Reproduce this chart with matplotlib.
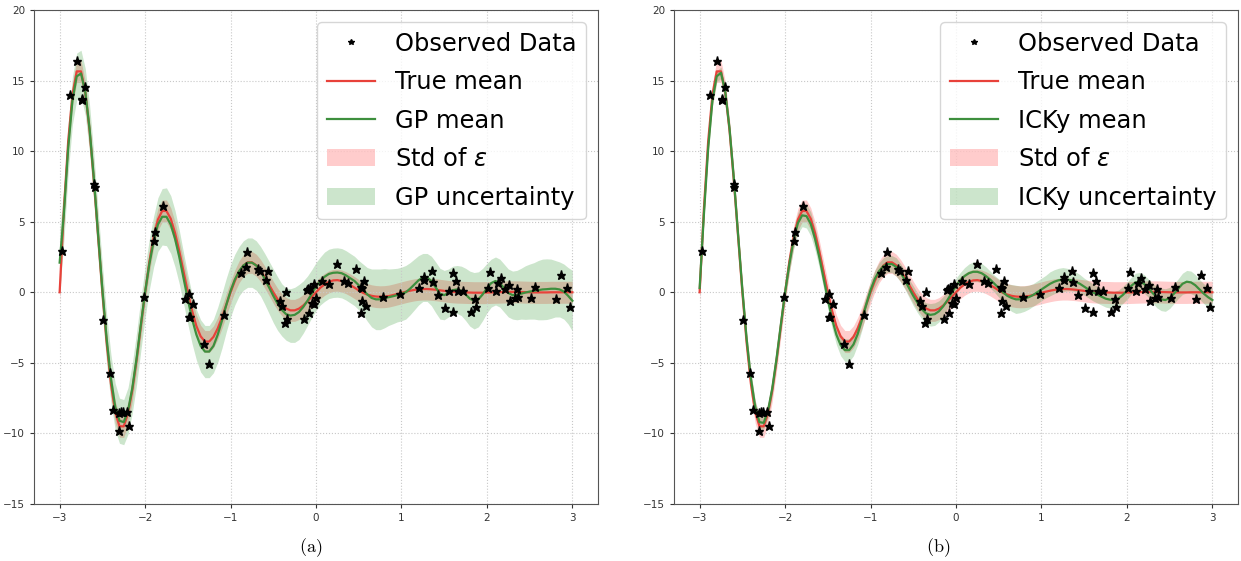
import numpy as np
import matplotlib.pyplot as plt

# sample grid of the curves (step 0.05)
x_grid = np.linspace(-3, 3, 121)

true_mean = [
    0.0, 5.91, 10.69, 14.00, 15.65, 15.65, 14.16, 11.46, 7.92, 3.96,
    0.0, -3.58, -6.48, -8.49, -9.49, -9.50, -8.59, -6.95, -4.80, -2.40,
    0.0, 2.17, 3.93, 5.15, 5.76, 5.76, 5.21, 4.21, 2.91, 1.46,
    0.0, -1.32, -2.39, -3.12, -3.49, -3.49, -3.16, -2.56, -1.77, -0.88,
    0.0, 0.80, 1.45, 1.89, 2.12, 2.12, 1.92, 1.55, 1.07, 0.54,
    0.0, -0.49, -0.88, -1.15, -1.28, -1.28, -1.16, -0.94, -0.65, -0.32,
    0.0, 0.32, 0.56, 0.74, 0.84, 0.86, 0.80, 0.68, 0.52, 0.33,
    0.13, -0.04, -0.16, -0.25, -0.30, -0.32, -0.31, -0.27, -0.20, -0.12,
    -0.04, 0.04, 0.11, 0.17, 0.21, 0.23, 0.23, 0.21, 0.18, 0.14,
    0.10, 0.06, 0.03, 0.01, 0.00, -0.01, -0.02, -0.03, -0.03, -0.03,
    -0.02, -0.01, 0.00, 0.01, 0.02, 0.03, 0.03, 0.03, 0.02, 0.01,
    0.00, -0.01, -0.01, -0.01, -0.01, 0.00, 0.00, 0.00, 0.00, 0.00,
    0.00]

gp_mean = [
    2.1, 5.6, 10.2, 13.6, 15.3, 15.5, 14.2, 11.6, 8.1, 4.1,
    0.2, -3.3, -6.1, -8.1, -9.1, -9.2, -8.4, -6.8, -4.7, -2.3,
    0.0, 2.0, 3.6, 4.8, 5.35, 5.35, 4.8, 3.8, 2.5, 1.0,
    -0.5, -1.9, -3.0, -3.8, -4.2, -4.2, -3.8, -3.0, -2.0, -0.9,
    0.1, 0.9, 1.5, 1.9, 2.1, 2.1, 1.9, 1.5, 0.95, 0.35,
    -0.25, -0.8, -1.25, -1.55, -1.65, -1.6, -1.4, -1.05, -0.6, -0.1,
    0.4, 0.8, 1.1, 1.3, 1.38, 1.4, 1.35, 1.2, 1.0, 0.8,
    0.5, 0.2, -0.15, -0.4, -0.5, -0.5, -0.42, -0.35, -0.28, -0.2,
    -0.12, 0.0, 0.25, 0.55, 0.85, 1.05, 1.05, 0.8, 0.35, -0.1,
    -0.2, -0.05, 0.15, 0.2, 0.1, -0.15, -0.45, -0.6, -0.5, -0.15,
    0.3, 0.65, 0.8, 0.65, 0.3, -0.05, -0.2, -0.2, -0.1, -0.02,
    0.05, 0.1, 0.15, 0.2, 0.22, 0.25, 0.25, 0.2, 0.05, -0.25,
    -0.6]

gp_std = [
    2.2, 1.9, 1.75, 1.7, 1.65, 1.65, 1.65, 1.7, 1.7, 1.75,
    1.75, 1.75, 1.7, 1.65, 1.6, 1.6, 1.65, 1.75, 1.85, 1.85,
    1.8, 1.8, 1.8, 1.9, 2.0, 2.05, 2.05, 2.0, 1.9, 1.8,
    1.75, 1.75, 1.8, 1.85, 1.85, 1.85, 1.9, 1.95, 1.95, 1.9,
    1.85, 1.8, 1.75, 1.75, 1.75, 1.75, 1.75, 1.75, 1.8, 1.85,
    1.9, 1.9, 1.85, 1.85, 1.9, 1.95, 1.95, 1.85, 1.75, 1.7,
    1.7, 1.7, 1.75, 1.75, 1.75, 1.75, 1.75, 1.75, 1.75, 1.75,
    1.75, 1.8, 1.9, 2.05, 2.15, 2.15, 2.1, 2.0, 1.95, 1.9,
    1.9, 1.9, 1.85, 1.8, 1.75, 1.7, 1.7, 1.75, 1.8, 1.8,
    1.75, 1.7, 1.7, 1.7, 1.75, 1.85, 1.95, 2.0, 1.95, 1.85,
    1.75, 1.7, 1.7, 1.7, 1.7, 1.7, 1.7, 1.75, 1.8, 1.9,
    1.95, 2.0, 2.1, 2.15, 2.15, 2.1, 2.0, 1.95, 1.95, 2.0,
    2.15]

icky_mean = [
    0.3, 5.5, 10.2, 13.6, 15.3, 15.55, 14.2, 11.6, 8.1, 4.1,
    0.2, -3.3, -6.1, -8.1, -9.2, -9.25, -8.4, -6.8, -4.7, -2.3,
    0.0, 2.0, 3.7, 4.9, 5.45, 5.4, 4.85, 3.8, 2.5, 1.0,
    -0.5, -1.9, -3.0, -3.75, -4.1, -4.1, -3.7, -2.95, -1.95, -0.85,
    0.15, 0.95, 1.5, 1.85, 2.0, 2.0, 1.8, 1.4, 0.9, 0.3,
    -0.25, -0.75, -1.2, -1.5, -1.6, -1.55, -1.35, -1.0, -0.55, -0.05,
    0.45, 0.85, 1.15, 1.35, 1.45, 1.45, 1.35, 1.15, 0.9, 0.6,
    0.3, 0.0, -0.25, -0.4, -0.5, -0.5, -0.45, -0.35, -0.2, 0.0,
    0.2, 0.4, 0.6, 0.75, 0.85, 0.9, 0.9, 0.85, 0.75, 0.6,
    0.4, 0.2, 0.0, -0.15, -0.3, -0.45, -0.52, -0.55, -0.45, -0.2,
    0.1, 0.45, 0.7, 0.75, 0.6, 0.3, -0.05, -0.35, -0.5, -0.55,
    -0.4, -0.1, 0.25, 0.6, 0.75, 0.7, 0.5, 0.2, -0.1, -0.35,
    -0.55]

icky_std = [
    0.45, 0.4, 0.4, 0.4, 0.4, 0.4, 0.4, 0.45, 0.45, 0.45,
    0.45, 0.45, 0.45, 0.45, 0.45, 0.45, 0.5, 0.5, 0.5, 0.55,
    0.55, 0.6, 0.65, 0.75, 0.8, 0.85, 0.85, 0.8, 0.75, 0.7,
    0.65, 0.65, 0.7, 0.75, 0.8, 0.8, 0.8, 0.75, 0.7, 0.65,
    0.6, 0.6, 0.6, 0.6, 0.6, 0.6, 0.65, 0.65, 0.65, 0.65,
    0.7, 0.7, 0.7, 0.75, 0.8, 0.8, 0.75, 0.7, 0.6, 0.55,
    0.55, 0.55, 0.6, 0.65, 0.7, 0.7, 0.7, 0.65, 0.6, 0.6,
    0.65, 0.75, 0.85, 0.95, 1.0, 0.95, 0.9, 0.85, 0.8, 0.8,
    0.8, 0.8, 0.85, 0.85, 0.85, 0.85, 0.8, 0.75, 0.7, 0.65,
    0.6, 0.6, 0.6, 0.6, 0.6, 0.6, 0.6, 0.6, 0.6, 0.6,
    0.6, 0.6, 0.65, 0.65, 0.65, 0.65, 0.7, 0.75, 0.8, 0.8,
    0.75, 0.7, 0.7, 0.75, 0.8, 0.8, 0.75, 0.7, 0.7, 0.75,
    0.8]

noise_std = 0.78

# noisy observations (same in both panels)
obs_x = [-2.973, -2.875, -2.793, -2.739, -2.733, -2.70, -2.595, -2.592, -2.493, -2.415,
         -2.376, -2.31, -2.287, -2.263, -2.213, -2.302, -2.193, -2.01, -1.894, -1.88,
         -1.792, -1.531, -1.484, -1.445, -1.49, -1.47, -1.305, -1.247, -1.071, -0.877,
         -0.822, -0.81, -0.68, -0.66, -0.565, -0.584, -0.42, -0.393, -0.355, -0.362,
         -0.339, -0.14, -0.109, -0.09, -0.07, -0.078, -0.05, -0.023, 0.0, -0.023,
         0.074, 0.15, 0.242, 0.33, 0.378, 0.464, 0.526, 0.534, 0.56, 0.534,
         0.585, 0.522, 0.787, 0.986, 1.205, 1.259, 1.267, 1.353, 1.372, 1.431,
         1.513, 1.556, 1.598, 1.606, 1.633, 1.657, 1.723, 1.809, 1.860, 1.871,
         2.008, 2.035, 2.105, 2.133, 2.164, 2.21, 2.261, 2.269, 2.347, 2.367,
         2.33, 2.511, 2.561, 2.803, 2.865, 2.936, 2.975]
obs_y = [2.95, 14.01, 16.37, 13.68, 13.6, 14.53, 7.67, 7.45, -1.98, -5.73,
         -8.37, -8.56, -8.47, -8.51, -8.49, -9.83, -9.48, -0.35, 3.61, 4.25,
         6.08, -0.5, -0.12, -0.8, -1.72, -1.77, -3.68, -5.05, -1.63, 1.39,
         1.82, 2.88, 1.63, 1.53, 1.53, 0.87, -0.59, -0.97, 0.05, -2.15,
         -1.91, -1.89, 0.17, 0.24, 0.28, -1.44, -0.73, -0.83, -0.42, 0.57,
         0.80, 0.57, 1.98, 0.80, 0.68, 1.67, 0.35, 0.28, 0.83, -0.61,
         -0.97, -1.49, -0.35, -0.14, 0.28, 0.87, 1.08, 1.53, 0.75, -0.19,
         -1.08, 0.12, -1.42, 1.39, 0.80, 0.12, 0.12, -1.42, -0.50, -1.06,
         0.31, 1.46, 0.12, 0.68, 1.04, 0.21, 0.52, -0.61, 0.21, -0.35,
         -0.42, -0.38, 0.40, -0.47, 1.20, 0.33, -1.01]

RED = '#e8413a'
GREEN = '#3d8f3d'


def draw_panel(ax, mean, std, name):
    mean = np.array(mean)
    std = np.array(std)
    tm = np.array(true_mean)
    ax.plot(obs_x, obs_y, '*', color='black', ms=6.5, label='Observed Data', zorder=5)
    ax.plot(x_grid, tm, color=RED, lw=1.6, label='True mean', zorder=4)
    ax.plot(x_grid, mean, color=GREEN, lw=1.6, label=name + ' mean', zorder=4)
    ax.fill_between(x_grid, tm - noise_std, tm + noise_std, color='red',
                    alpha=0.2, lw=0, label=r'Std of $\varepsilon$')
    ax.fill_between(x_grid, mean - std, mean + std, color='green',
                    alpha=0.2, lw=0, label=name + ' uncertainty')

    ax.set_xlim(-3.3, 3.3)
    ax.set_ylim(-15, 20)
    ax.set_xticks(range(-3, 4))
    ax.set_yticks(range(-15, 21, 5))
    ax.grid(True, linestyle=':', color='#c8c8c8', lw=0.8)
    ax.tick_params(labelsize=7.5, colors='#333333', length=3)
    for sp in ax.spines.values():
        sp.set_color('#555555')
    ax.legend(loc='upper right', fontsize=17.4, labelspacing=0.6,
              markerscale=0.6, framealpha=0.8)


fig = plt.figure(figsize=(12.41, 5.61), dpi=100)
ax1 = fig.add_axes([0.0274, 0.1016, 0.4545, 0.8806])
ax2 = fig.add_axes([0.5431, 0.1016, 0.4545, 0.8806])

draw_panel(ax1, gp_mean, gp_std, 'GP')
draw_panel(ax2, icky_mean, icky_std, 'ICKy')

plt.rcParams['mathtext.fontset'] = 'cm'
fig.text(0.25, 0.023, r'$\mathrm{(a)}$', ha='center', va='center', fontsize=13)
fig.text(0.756, 0.023, r'$\mathrm{(b)}$', ha='center', va='center', fontsize=13)

fig.savefig('out.png', dpi=100)
